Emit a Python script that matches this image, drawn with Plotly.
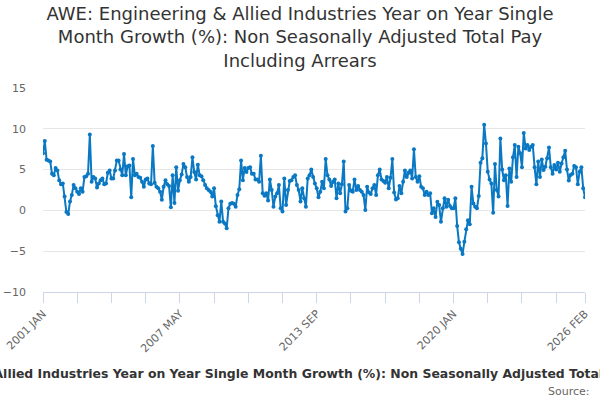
import plotly.graph_objects as go

# monthly periods, 2001 JAN .. 2026 FEB
month_names = ["JAN", "FEB", "MAR", "APR", "MAY", "JUN",
               "JUL", "AUG", "SEP", "OCT", "NOV", "DEC"]
periods = [f"{2001 + k // 12} {month_names[k % 12]}" for k in range(302)]

growth = [
    7.0, 8.5, 6.2, 6.1, 6.0, 4.5, 4.3, 5.2, 4.9, 3.7, 3.2, 3.3,
    1.7, -0.2, -0.45, 1.1, 1.9, 3.1, 2.7, 2.3, 2.0, 2.7, 2.3, 4.1,
    4.2, 4.5, 9.3, 3.5, 4.1, 3.9, 2.8, 3.3, 3.7, 3.9, 3.2, 3.3,
    4.6, 4.9, 3.9, 3.9, 4.9, 6.1, 6.1, 5.0, 4.3, 6.9, 4.3, 5.4,
    5.5, 1.6, 6.3, 4.3, 4.5, 4.1, 4.0, 3.5, 2.9, 3.8, 3.9, 3.3,
    3.2, 7.9, 3.4, 2.9, 2.7, 2.3, 1.3, 2.9, 3.7, 3.2, 3.0, 0.4,
    4.3, 0.9, 5.3, 2.4, 3.7, 4.4, 5.7, 5.3, 4.1, 3.5, 4.1, 6.5,
    4.7, 3.8, 5.6, 4.3, 4.2, 3.7, 3.1, 2.7, 2.5, 2.3, 1.7, 2.7,
    0.5, -0.6, -1.4, 1.1, -1.4, -1.6, -2.2, 0.25, 0.8, 0.9, 0.8, 0.45,
    1.9, 2.6, 6.1, 3.7, 5.2, 4.7, 5.2, 5.3, 4.5, 4.5, 3.8, 3.8,
    3.5, 6.7, 2.1, 1.8, 2.1, 1.2, 3.8, 2.5, 0.45, 1.7, 2.1, 3.1,
    0.25, -0.15, 3.9, 0.65, 2.5, 3.6, 3.7, 4.1, 4.3, 3.1, 2.5, 1.1,
    2.7, 1.5, 0.45, 3.9, 4.3, 5.0, 4.1, 3.3, 2.7, 1.6, 2.3, 3.5,
    2.7, 6.3, 4.3, 3.8, 3.0, 3.5, 3.8, 1.5, 3.3, 2.1, 3.2, 6.0,
    -0.15, 0.25, 3.1, 2.4, 2.3, 3.8, 2.5, 3.0, 2.5, 2.3, 1.9, 0.05,
    2.9, 2.2, 2.0, 2.7, 3.1, 1.9, 4.3, 5.0, 3.8, 3.6, 3.4, 4.1,
    2.7, 4.0, 6.3, 2.2, 1.35, 1.5, 3.0, 2.1, 3.5, 4.9, 4.1, 4.6,
    4.9, 3.9, 7.5, 4.1, 3.5, 4.2, 2.9, 2.7, 1.9, 2.3, 1.9, 2.1,
    -0.35, 0.25, -0.8, 1.05, 0.65, -1.4, 0.25, 1.5, 0.45, 1.3, 0.55, 0.25,
    0.25, 1.5, -1.9, -3.9, -4.7, -5.35, -3.85, -2.3, -1.2, -1.7, 2.9, 0.85,
    0.45, 0.25, 1.75, 5.85, 6.4, 10.5, 8.2, 4.75, 3.8, 3.3, -0.3, 5.7,
    2.5, 1.7, 8.8, 5.0, 3.7, 4.3, 0.55, 5.15, 3.5, 6.5, 8.0, 4.1,
    7.8, 7.0, 5.3, 9.5, 7.6, 8.0, 7.4, 7.8, 8.0, 5.3, 3.2, 6.0,
    4.1, 6.25, 4.95, 5.35, 6.4, 7.7, 5.3, 4.5, 5.55, 5.0, 5.85, 4.75,
    5.75, 6.5, 7.3, 5.0, 3.65, 4.35, 4.5, 5.45, 5.3, 3.2, 4.75, 5.3,
    2.7, 1.6,
]

tick_idx = list(range(0, 302, 19)) + [301]
label_idx = [0, 76, 152, 228, 301]
tick_text = [periods[i] if i in label_idx else "" for i in tick_idx]

title = "AWE: Engineering & Allied Industries Year on Year Single Month Growth (%): Non Seasonally Adjusted Total Pay Including Arrears"

fig = go.Figure()
fig.add_trace(go.Scatter(
    x=list(range(len(growth))), y=growth,
    mode="lines+markers",
    line=dict(color="#0a78c2", width=2),
    marker=dict(color="#0a78c2", size=4),
    hovertext=periods,
))

fig.update_layout(
    width=600, height=400,
    margin=dict(l=43, r=15, t=88, b=108),
    paper_bgcolor="white", plot_bgcolor="white",
    font=dict(family="DejaVu Sans", color="#666666", size=11),
    showlegend=False,
    title=dict(
        text="AWE: Engineering & Allied Industries Year on Year Single<br>"
             "Month Growth (%): Non Seasonally Adjusted Total Pay<br>"
             "Including Arrears",
        x=0.5, xanchor="center", y=0.95, yanchor="top",
        font=dict(size=18, color="#333333"),
    ),
    xaxis=dict(
        range=[0, 301], showgrid=False, zeroline=False, automargin=False,
        showline=True, linecolor="#ccd6eb", linewidth=1,
        tickmode="array", tickvals=tick_idx, ticktext=tick_text,
        ticks="outside", ticklen=10, tickcolor="#ccd6eb",
        tickangle=-45, tickfont=dict(size=11, color="#666666"),
    ),
    yaxis=dict(
        range=[-10, 15], tickvals=[-10, -5, 0, 5, 10, 15],
        showgrid=True, gridcolor="#e6e6e6", zeroline=False, automargin=False,
        showline=False, ticks="", ticklabelstandoff=16,
        tickfont=dict(size=11, color="#666666"),
    ),
    annotations=[
        dict(text="<b>" + title + "</b>", xref="paper", yref="paper",
             x=0.4815, y=-0.4, xanchor="center", yanchor="middle",
             showarrow=False, font=dict(size=12.45, color="#333333")),
        dict(text="Source:", xref="paper", yref="paper",
             x=1.013, y=-0.49, xanchor="right", yanchor="middle",
             showarrow=False, font=dict(size=11, color="#666666")),
    ],
)

fig.write_html("out.html", config={"displayModeBar": False},
               post_script="document.body.style.margin='0px';")
